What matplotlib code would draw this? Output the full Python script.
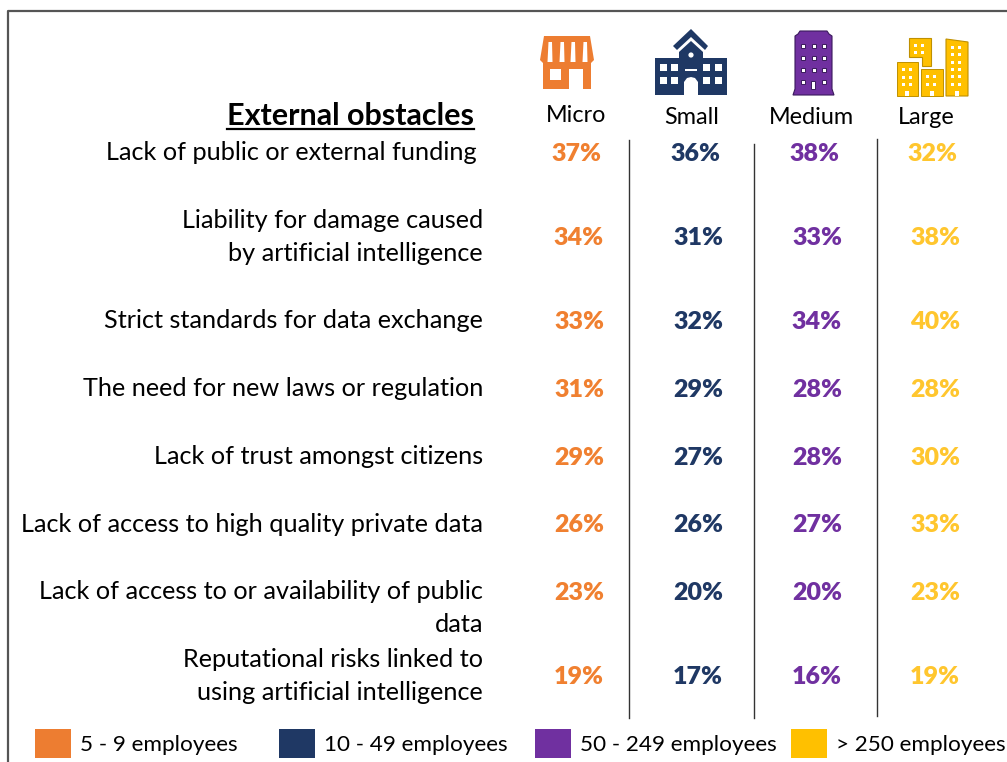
import matplotlib
matplotlib.use('Agg')
import matplotlib.pyplot as plt
from matplotlib.patches import Polygon, Rectangle

plt.rcParams['font.family'] = ['Lato', 'DejaVu Sans']

OBSTACLES = [
    'Lack of public or external funding',
    'Liability for damage caused\nby artificial intelligence',
    'Strict standards for data exchange',
    'The need for new laws or regulation',
    'Lack of trust amongst citizens',
    'Lack of access to high quality private data',
    'Lack of access to or availability of public\ndata',
    'Reputational risks linked to\nusing artificial intelligence',
]
MICRO  = [37, 34, 33, 31, 29, 26, 23, 19]
SMALL  = [36, 31, 32, 29, 27, 26, 20, 17]
MEDIUM = [38, 33, 34, 28, 28, 27, 20, 16]
LARGE  = [32, 38, 40, 28, 30, 33, 23, 19]
SIZES  = ['Micro', 'Small', 'Medium', 'Large']
LEGEND = ['5 - 9 employees', '10 - 49 employees', '50 - 249 employees', '> 250 employees']

ORANGE, NAVY, PURPLE, GOLD = '#ED7D31', '#1F3864', '#7030A0', '#FFC000'
TEXT_COLS = ['#F08030', '#1F3864', '#7030A0', '#FFC62E']

# layout, in reference pixels
ROW_Y = [154, 238, 322, 390, 458, 525, 593, 677]
LABEL_Y = [153, 237, 321, 389, 457, 525, 608, 676]
COL_X = [579, 698, 817, 935]

fig = plt.figure(figsize=(10.07, 7.62), dpi=100)
ax = fig.add_axes([0, 0, 1, 1])
ax.set_xlim(0, 1007)
ax.set_ylim(762, 0)
ax.axis('off')

# ---- frame ----
ax.plot([8, 8, 1007], [762, 11, 11], color='#555555', lw=1.6)

# ---- column separators ----
for x, y0, y1 in [(629, 140, 718), (754, 144, 718), (876.5, 139, 716)]:
    ax.plot([x, x], [y0, y1], color='#333333', lw=1.0)


def rect(x, y, w, h, color, ec='none'):
    ax.add_patch(Rectangle((x, y), w, h, fc=color, ec=ec, lw=0.7))


def poly(pts, color, ec='none'):
    ax.add_patch(Polygon(pts, closed=True, fc=color, ec=ec, lw=0.8))


# ---- shop icon ----
poly([(544, 36), (590, 36), (594, 60), (591, 63), (543, 63), (540, 60)], ORANGE)
for x in [550, 562, 573, 585]:
    poly([(x - 1.5, 42), (x + 2, 42), (x + 2.5, 62), (x - 2.5, 62)], 'white')
rect(543, 62, 48, 27, ORANGE)
rect(550, 69, 11, 11, 'white')
rect(569, 69, 14, 20, 'white')

# ---- school icon ----
poly([(691, 29), (708, 46), (705, 50), (691, 37), (677, 50), (673, 46)], NAVY)
poly([(691, 41), (703, 52), (703, 58), (727, 58), (727, 95), (655, 95), (655, 58),
      (679, 58), (679, 52)], NAVY)
for x in [660, 671, 703, 715]:
    for y in [64, 77]:
        rect(x, y, 7, 7, 'white')
rect(685, 69, 12, 2, 'white')
ax.add_patch(plt.Circle((691, 55), 2.6, fc='white', ec='none'))
poly([(684, 95), (684, 82), (687, 78), (691, 77), (695, 78), (698, 82), (698, 95)], 'white')

# ---- tower icon ----
poly([(800, 31), (827, 31), (829, 34), (832, 36), (832, 89), (834, 95), (793, 95),
      (795, 89), (795, 36), (798, 34)], PURPLE, ec='#3A1A5C')
for x in [801, 812, 822]:
    for y in [44, 56, 68]:
        rect(x, y, 4, 4, 'white', ec='#3A1A5C')
rect(801, 80, 4, 4, 'white', ec='#3A1A5C')
rect(822, 80, 4, 4, 'white', ec='#3A1A5C')
rect(811, 81, 4, 8, 'white', ec='#3A1A5C')

# ---- city icon ----
OUTLINE = '#BF9000'
rect(897, 62, 21, 34, GOLD, ec=OUTLINE)
rect(921, 69, 22, 27, GOLD, ec=OUTLINE)
poly([(909, 38), (931, 38), (931, 66), (922, 66), (922, 57), (909, 57)], GOLD, ec=OUTLINE)
poly([(946, 39), (968, 42), (968, 96), (946, 96)], GOLD, ec=OUTLINE)
for bx, by, nx, ny, dx, dy in [(902, 68, 2, 3, 6.5, 7.5), (926, 75, 2, 2, 7, 7.5),
                               (914, 44, 2, 2, 6.5, 7), (951, 46, 2, 6, 7, 7.3)]:
    for i in range(nx):
        for j in range(ny):
            rect(bx + i * dx, by + j * dy, 3.2, 3.2, 'white')
for x in [905, 930, 955]:
    rect(x, 91, 4, 5, 'white')

# ---- headers ----
ax.text(350.5, 116, 'External obstacles', fontsize=22, fontweight='bold', ha='center',
        va='center', color='black')
ax.plot([227, 474], [129, 129], color='black', lw=1.6)
for name, x, y in zip(SIZES, [576, 692, 811, 926], [116, 117, 118, 118]):
    ax.text(x, y, name, fontsize=16.8, ha='center', va='center', color='black')

# ---- rows ----
for i, label in enumerate(OBSTACLES):
    ax.text(477 if i == 0 else 483, LABEL_Y[i], label, fontsize=18.2, ha='right', va='center',
            linespacing=1.48, color='black')
    for j, vals in enumerate([MICRO, SMALL, MEDIUM, LARGE]):
        x = COL_X[j] - (3 if i == 0 else 0)
        ax.text(x, ROW_Y[i], f'{vals[i]}%', fontsize=18, fontweight='heavy', ha='center',
                va='center', color=TEXT_COLS[j])

# ---- legend ----
for label, col, x0 in zip(LEGEND, [ORANGE, NAVY, PURPLE, GOLD], [35, 279, 535, 791]):
    rect(x0, 729, 36, 29, col)
    ax.text(x0 + 45, 745, label, fontsize=16.2, ha='left', va='center', color='black')

fig.savefig('out.png', dpi=100)
plt.close()
